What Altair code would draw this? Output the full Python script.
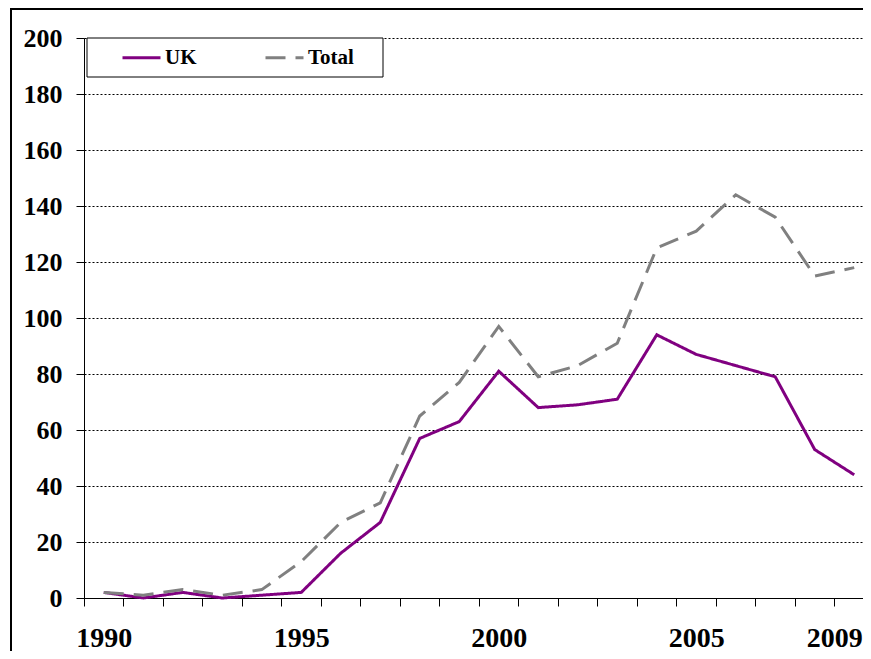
import altair as alt
import pandas as pd

years = list(range(1990, 2010))
uk = [2, 0, 2, 0, 1, 2, 16, 27, 57, 63, 81, 68, 69, 71, 94, 87, 83, 79, 53, 44]
total = [2, 1, 3, 1, 3, 13, 27, 34, 65, 77, 97, 79, 83, 91, 125, 131, 144, 136, 115, 118]
series_names = ["UK", "Total"]
series_colors = ["#800080", "#808080"]
series_dashes = [[1, 0], [20, 10]]
shown_labels = [1990, 1995, 2000, 2005, 2009]
y_ticks = list(range(0, 201, 20))

rows = []
for name, vals in zip(series_names, [uk, total]):
    for yr, v in zip(years, vals):
        rows.append({"year": yr, "value": v, "series": name})
df = pd.DataFrame(rows)

FONT = "Liberation Serif"
W, H = 779, 560
x_ticks = [y - 0.5 for y in years]
x_domain = [1989.5, 1989.5 + W / 39.5]
x_scale = alt.Scale(domain=x_domain, nice=False, zero=False)

x_enc = alt.X(
    "year:Q", scale=x_scale,
    axis=alt.Axis(
        values=x_ticks, labels=False, grid=False, title=None, orient="bottom",
        tickSize=8, tickColor="black", domainColor="black", domainWidth=1,
    ),
)
x_lab = alt.X(
    "year:Q", scale=x_scale,
    axis=alt.Axis(
        values=shown_labels, format="d", grid=False, title=None, orient="bottom",
        ticks=False, domain=False,
        labelFont=FONT, labelFontWeight="bold", labelFontSize=28,
        labelColor="black", labelPadding=26, labelFlush=12, labelFlushOffset=8,
        labelOverlap=False, labelBound=False, labelAngle=0,
    ),
)
y_enc = alt.Y(
    "value:Q",
    scale=alt.Scale(domain=[0, 200], nice=False),
    axis=alt.Axis(
        values=y_ticks, title=None, grid=True, gridColor="black",
        gridDash=[2, 2], gridWidth=1, tickSize=8, tickColor="black",
        domainColor="black", domainWidth=1,
        labelFont=FONT, labelFontWeight="bold", labelFontSize=26,
        labelColor="black", labelPadding=14,
    ),
)

lines = alt.Chart(df).mark_line(strokeWidth=3).encode(
    x=x_enc,
    y=y_enc,
    color=alt.Color("series:N", scale=alt.Scale(domain=series_names, range=series_colors),
                    legend=alt.Legend(title=None)),
    strokeDash=alt.StrokeDash("series:N", scale=alt.Scale(domain=series_names, range=series_dashes),
                              legend=alt.Legend(title=None)),
)
labels_layer = alt.Chart(df).mark_point(opacity=0).encode(
    x=x_lab, y=y_enc
)

one = alt.Data(values=[{}])
frame = alt.Chart(one).mark_rect(fill=None, stroke="black", strokeWidth=2).encode(
    x=alt.value(-73), x2=alt.value(W + 60), y=alt.value(-29), y2=alt.value(H + 120)
)
legend_box = alt.Chart(one).mark_rect(fill="white", stroke="black", strokeWidth=1).encode(
    x=alt.value(3), x2=alt.value(299), y=alt.value(0), y2=alt.value(39)
)

chart = alt.layer(frame, lines, labels_layer, legend_box).resolve_axis(
    x="independent", y="shared"
).properties(
    width=W, height=H,
    autosize=alt.AutoSizeParams(type="none"),
    padding={"left": 76, "top": 30, "right": 0, "bottom": 53},
    background="white",
).configure_view(stroke=None).configure_axis(
    labelFont=FONT, labelFontWeight="bold", labelColor="black"
).configure_legend(
    orient="none", legendX=37, legendY=-1, direction="horizontal",
    labelFont=FONT, labelFontWeight="bold", labelFontSize=21,
    labelColor="black", symbolSize=1444, symbolStrokeWidth=3, symbolType="stroke",
    columnPadding=62, padding=0, labelOffset=3,
)

chart.save("out.html", embed_options={"renderer": "svg", "actions": False})
